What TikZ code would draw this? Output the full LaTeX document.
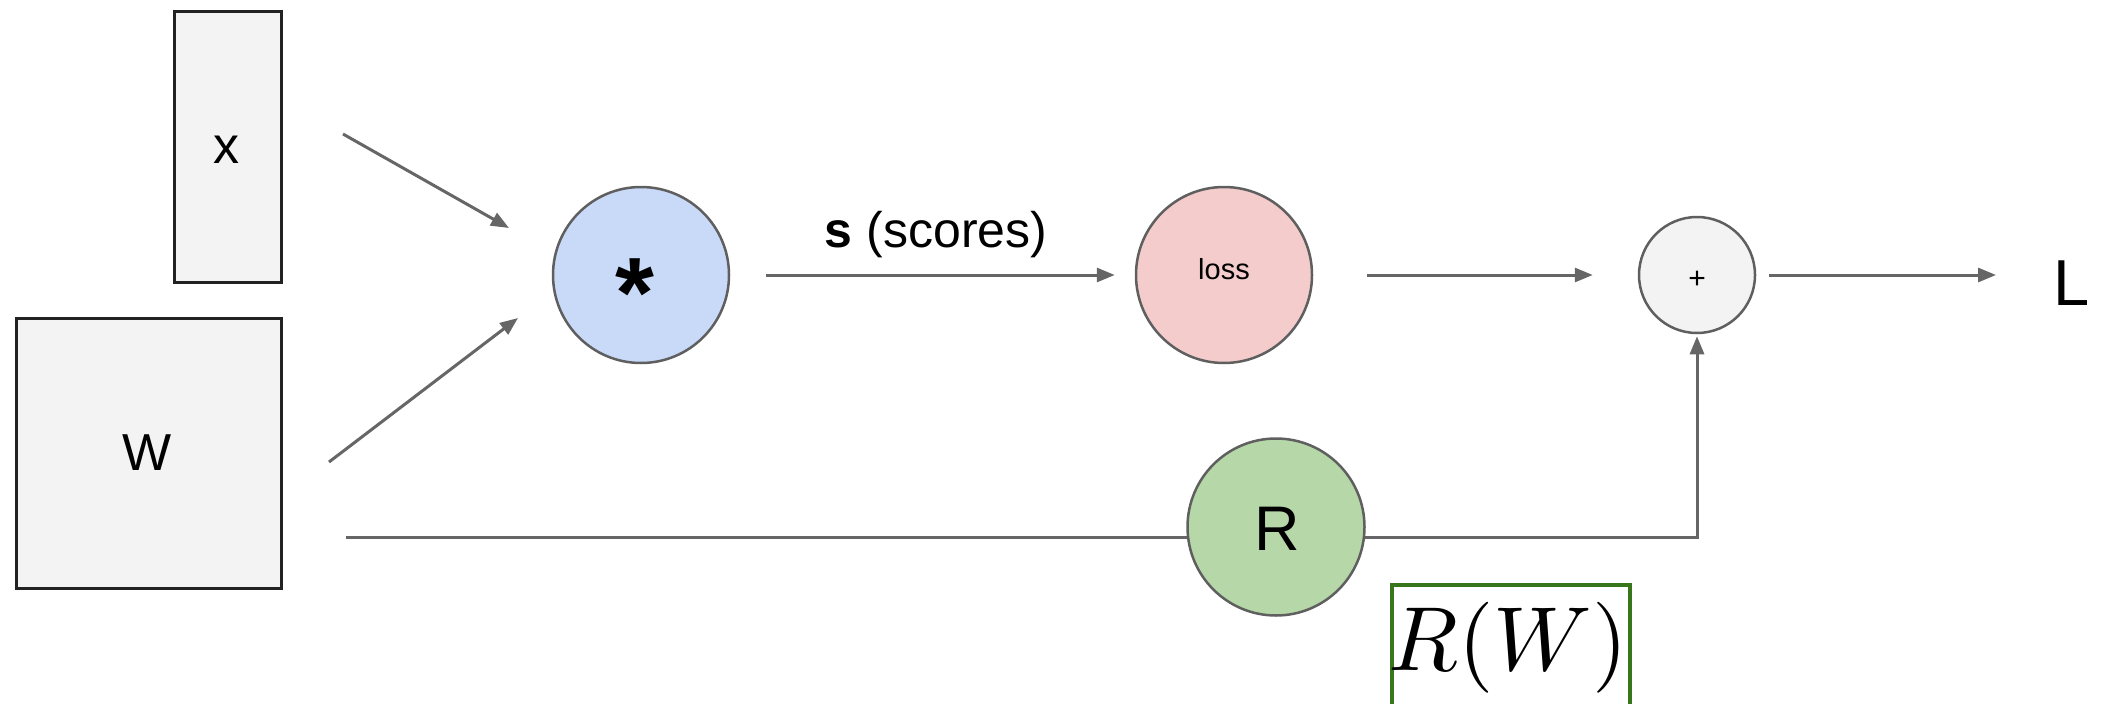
\documentclass[tikz,border=0pt]{standalone}
\usepackage[no-math]{fontspec}
\setmainfont{Liberation Sans}
\usetikzlibrary{arrows.meta,backgrounds}
\definecolor{linegray}{HTML}{666666}
\definecolor{circedge}{HTML}{5F5F5F}
\definecolor{boxedge}{HTML}{222222}
\definecolor{boxfill}{HTML}{F3F3F3}
\definecolor{starfill}{HTML}{C9DAF8}
\definecolor{lossfill}{HTML}{F4CCCC}
\definecolor{regfill}{HTML}{B6D7A8}
\definecolor{plusfill}{HTML}{F3F3F3}
\definecolor{rwgreen}{HTML}{38761D}
\begin{document}
\begin{tikzpicture}[x=1pt,y=-1pt,
  conn/.style={draw=linegray,line width=3pt,-{Triangle[length=18pt,width=14pt]}},
  opbox/.style={draw=boxedge,line width=2.5pt,fill=boxfill,inner sep=0pt,anchor=north west},
  opcirc/.style={circle,draw=circedge,line width=2.5pt,inner sep=0pt},
  lbl/.style={anchor=base,inner sep=0pt}
]
\useasboundingbox (0,0) rectangle (2105,704);
\clip (0,0) rectangle (2105,704);

% boxes
\node[opbox,minimum width=107pt,minimum height=271pt] (xbox) at (173,10) {};
\node[opbox,minimum width=265pt,minimum height=270pt] (wbox) at (15,317) {};
\node[lbl,font=\fontsize{52}{60}\selectfont] (xlbl) at (226,163) {x};
\node[lbl,font=\fontsize{52}{60}\selectfont] (wlbl) at (147,470) {W};

% circles
\node[opcirc,fill=starfill,minimum size=176pt] (star) at (641,275) {};
\node[opcirc,fill=lossfill,minimum size=176pt] (loss) at (1224,275) {};
\node[opcirc,fill=plusfill,minimum size=116pt] (plus) at (1697,275) {};
\node[opcirc,fill=regfill,minimum size=177pt] (reg) at (1276,527) {};

\node[lbl,font=\fontsize{100}{110}\selectfont\bfseries] (starlbl) at (635,327) {*};
\node[lbl,font=\fontsize{29}{34}\selectfont] (losslbl) at (1224,279) {loss};
\node[lbl,font=\fontsize{30}{36}\selectfont] (pluslbl) at (1697,288) {+};
\node[lbl,font=\fontsize{63}{72}\selectfont] (reglbl) at (1277,550) {R};
\node[lbl,font=\fontsize{65}{75}\selectfont] (Llbl) at (2072,305) {L};
\node[lbl,font=\fontsize{50}{58}\selectfont] (scores) at (936,247) {\textbf{s} (scores)};

% R(W) box
\node[draw=rwgreen,line width=3.5pt,fill=white,inner sep=0pt,anchor=north west,
      minimum width=238pt,minimum height=140pt] (rwbox) at (1390,583) {};
\node[lbl] (rwlbl) at (1508,670) {\scalebox{9.1}{$R(W)$}};

% connectors
\coordinate (xout) at (343,134);
\coordinate (xin) at (509,228);
\coordinate (wout) at (329,462);
\coordinate (win) at (518,318);
\coordinate (rout) at (346,537);
\coordinate (lin) at (1996,275);

\draw[conn] (xout) -- (xin);
\draw[conn] (wout) -- (win);
\draw[conn,shorten <=36pt,shorten >=20pt] (star.east) -- (loss.west);
\draw[conn,shorten <=54pt,shorten >=45pt] (loss.east) -- (plus.west);
\draw[conn,shorten <=13pt] (plus.east) -- (lin);
\begin{scope}[on background layer]
\draw[conn,shorten >=2pt] (rout) -- (rout -| plus.south) -- (plus.south);
\end{scope}
\end{tikzpicture}
\end{document}
